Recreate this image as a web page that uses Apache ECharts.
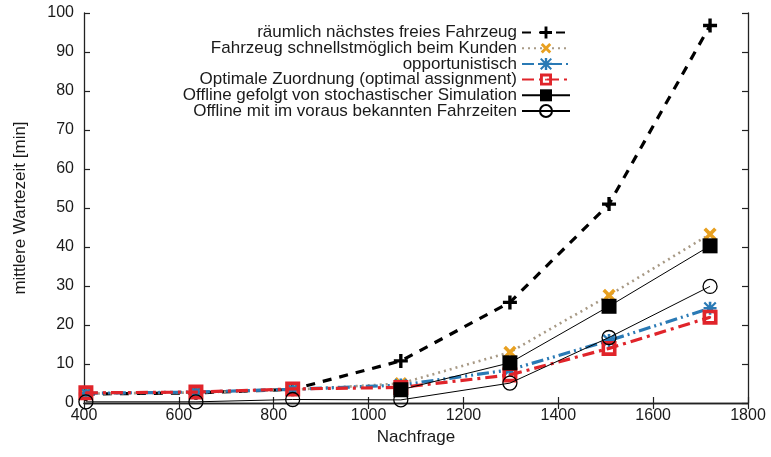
<!DOCTYPE html>
<html>
<head>
<meta charset="utf-8">
<script src="https://cdn.jsdelivr.net/npm/echarts@6/dist/echarts.min.js"></script>
<style>html,body{margin:0;padding:0;background:#fff}#c{width:771px;height:457px}</style>
</head>
<body>
<div id="c"></div>
<script>
const demand = [404, 636, 840, 1068, 1298, 1507, 1720];
const naechstes = [2.3, 2.6, 3.5, 10.8, 25.8, 51.0, 96.8];
const schnellst = [2.4, 2.7, 3.4, 5.0, 13.0, 27.6, 43.3];
const opportun = [2.5, 2.8, 3.5, 4.6, 8.5, 16.0, 24.3];
const optimal = [2.6, 2.8, 3.6, 4.0, 7.2, 14.0, 22.0];
const offlineSim = [null, null, null, 3.4, 10.3, 24.8, 40.3];
const offlineBek = [0.3, 0.3, 0.9, 0.8, 5.1, 16.8, 29.9];
const names = [
  'räumlich nächstes freies Fahrzeug',
  'Fahrzeug schnellstmöglich beim Kunden',
  'opportunistisch',
  'Optimale Zuordnung (optimal assignment)',
  'Offline gefolgt von stochastischer Simulation',
  'Offline mit im voraus bekannten Fahrzeiten'
];
const xTicks = {min: 400, max: 1800, interval: 200};
const yTicks = {min: 0, max: 100, interval: 10};

const pts = arr => demand.map((x, i) => [x, arr[i]]);
const PLUS = 'path://M3.8,0H6.2V3.8H10V6.2H6.2V10H3.8V6.2H0V3.8H3.8Z';
const STAR = 'path://M4,0H6V4H10V6H6V10H4V6H0V4H4Z M1.2,0L10,8.8L8.8,10L0,1.2Z M8.8,0L10,1.2L1.2,10L0,8.8Z';
const SQR = 'path://M0,0H10V10H0Z M2.4,2.4V7.6H7.6V2.4Z M4.3,4.3H5.7V5.7H4.3Z';
const font = 'Liberation Sans, Arial, sans-serif';
const txt = '#1a1a1a';

const chart = echarts.init(document.getElementById('c'), null, {renderer: 'canvas'});
const axCommon = {
  axisLine: {show: true, lineStyle: {color: '#222', width: 1.3}},
  axisTick: {show: true, inside: true, length: 6, lineStyle: {color: '#222', width: 1.2}},
  splitLine: {show: false}
};
chart.setOption({
  animation: false,
  backgroundColor: '#fff',
  grid: {left: 84, right: 23, top: 13, bottom: 54},
  legend: {
    orient: 'vertical', align: 'right', right: 195, top: 19,
    itemWidth: 48, itemHeight: 15, itemGap: -1.3,
    textStyle: {fontFamily: font, fontSize: 17, color: txt, lineHeight: 15},
    data: names
  },
  xAxis: [
    Object.assign({type: 'value', position: 'bottom', min: xTicks.min, max: xTicks.max, interval: xTicks.interval,
      name: 'Nachfrage', nameLocation: 'middle', nameGap: 26,
      nameTextStyle: {fontFamily: font, fontSize: 17, color: txt},
      axisLabel: {fontFamily: font, fontSize: 16, color: txt, margin: 5, formatter: v => String(v)}}, axCommon),
    Object.assign({type: 'value', position: 'top', min: xTicks.min, max: xTicks.max, interval: xTicks.interval,
      axisLabel: {show: false}}, axCommon)
  ],
  yAxis: [
    Object.assign({type: 'value', position: 'left', min: yTicks.min, max: yTicks.max, interval: yTicks.interval,
      name: 'mittlere Wartezeit [min]', nameLocation: 'middle', nameGap: 55,
      nameTextStyle: {fontFamily: font, fontSize: 17, color: txt},
      axisLabel: {fontFamily: font, fontSize: 16, color: txt, margin: 10}}, axCommon),
    Object.assign({type: 'value', position: 'right', min: yTicks.min, max: yTicks.max, interval: yTicks.interval,
      axisLabel: {show: false}}, axCommon)
  ],
  series: [
    {name: names[0], type: 'line', data: pts(naechstes), symbol: PLUS, symbolSize: 14,
      itemStyle: {color: '#000'}, lineStyle: {color: '#000', width: 3.2, type: [9, 8]}, z: 2},
    {name: names[1], type: 'line', data: pts(schnellst), symbol: PLUS, symbolRotate: 45, symbolSize: 15,
      itemStyle: {color: '#e8a020'}, lineStyle: {color: '#a89a86', width: 2.6, type: [2, 4]}, z: 3},
    {name: names[2], type: 'line', data: pts(opportun), symbol: STAR, symbolSize: 13,
      itemStyle: {color: '#2a7ab5'}, lineStyle: {color: '#2a7ab5', width: 3.2, type: [12, 4, 2, 4, 2, 4]}, z: 4},
    {name: names[3], type: 'line', data: pts(optimal), symbol: SQR, symbolSize: 15,
      itemStyle: {color: '#e0242a'}, lineStyle: {color: '#e0242a', width: 3.2, type: [12, 5, 3, 5]}, z: 5},
    {name: names[4], type: 'line', data: pts(offlineSim), symbol: 'rect', symbolSize: 15,
      itemStyle: {color: '#000'}, lineStyle: {color: '#000', width: 1}, z: 6},
    {name: names[5], type: 'line', data: pts(offlineBek), symbol: 'circle', symbolSize: 14,
      itemStyle: {color: 'rgba(255,255,255,0)', borderColor: '#000', borderWidth: 1.3},
      lineStyle: {color: '#000', width: 1}, z: 7}
  ]
});
</script>
</body>
</html>
